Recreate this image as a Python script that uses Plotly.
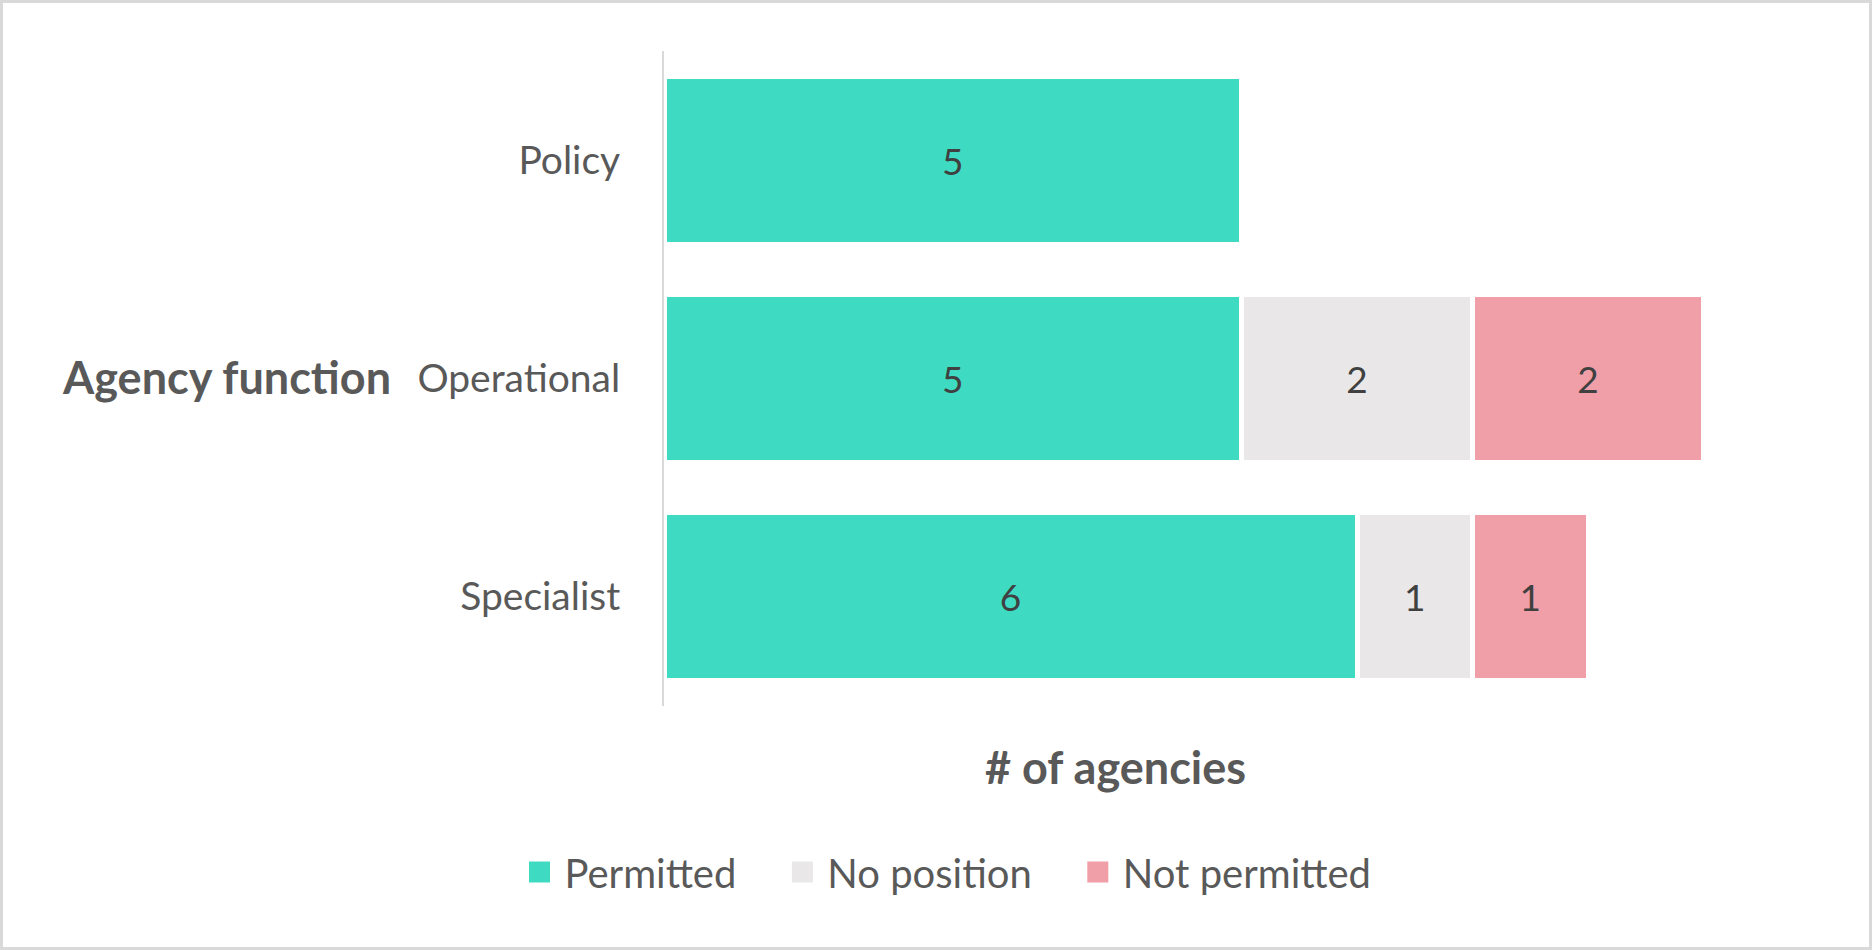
import plotly.graph_objects as go

categories = ["Policy", "Operational", "Specialist"]
permitted = [5, 5, 6]
no_position = [0, 2, 1]
not_permitted = [0, 2, 1]
series_names = ["Permitted", "No position", "Not permitted"]
series_values = [permitted, no_position, not_permitted]
colors = ["#3EDBC2", "#E9E7E8", "#F09EA7"]

W, H = 1872, 950
L, R, T, B = 664, 76, 51, 244
PW, PH = W - L - R, H - T - B

def px(x):
    return (x - L) / PW

def py(y):
    return (H - B - y) / PH

FONT = "Lato, 'Source Sans Pro', 'Noto Sans', sans-serif"
NB = "\u00a0"
THIN = "\u2009"

fig = go.Figure()
for name, vals, col in zip(series_names, series_values, colors):
    fig.add_trace(go.Bar(
        y=categories, x=vals, name=name, orientation="h",
        marker=dict(color=col, line=dict(color="white", width=5)),
        text=[str(v) if v else "" for v in vals],
        textposition="inside", insidetextanchor="middle",
        textfont=dict(color="#404040", size=37, family=FONT),
        showlegend=False, hoverinfo="x+y+name",
    ))
# legend entries (bigger squares)
for name, col in zip(series_names, colors):
    fig.add_trace(go.Scatter(
        x=[None], y=[None], mode="markers", name=THIN + name + NB * 4,
        marker=dict(symbol="square", size=16, color=col, line=dict(color=col, width=5)),
    ))

fig.update_layout(
    width=W, height=H,
    margin=dict(l=L, r=R, t=T, b=B),
    barmode="stack", bargap=0.23,
    paper_bgcolor="white", plot_bgcolor="white",
    font=dict(family=FONT, color="#595959", size=36),
    xaxis=dict(range=[0, 9.8], showgrid=False, zeroline=False, showticklabels=False,
               showline=False, fixedrange=True),
    yaxis=dict(autorange="reversed", showgrid=False, zeroline=False, showline=True,
               linecolor="#D9D9D9", linewidth=2, ticks="", ticklabelstandoff=34,
               tickfont=dict(size=39, color="#595959", family=FONT)),
    legend=dict(orientation="h", xanchor="left", yanchor="middle",
                x=px(519.5), y=py(872), font=dict(size=40, color="#595959", family=FONT),
                itemsizing="trace", traceorder="normal"),
    annotations=[
        dict(text="<b>Agency function</b>", xref="paper", yref="paper",
             x=px(393), y=py(377), xanchor="right", yanchor="middle", showarrow=False,
             font=dict(size=45, color="#595959", family=FONT)),
        dict(text="<b># of agencies</b>", xref="paper", yref="paper",
             x=px(1115), y=py(767), xanchor="center", yanchor="middle", showarrow=False,
             font=dict(size=45, color="#595959", family=FONT)),
    ],
    shapes=[
        dict(type="rect", xref="paper", yref="paper",
             x0=px(1.5), x1=px(W - 1.5), y0=py(H - 1.5), y1=py(1.5),
             line=dict(color="#D9D9D9", width=3), fillcolor="rgba(0,0,0,0)", layer="below"),
    ],
)

fig.write_html("out.html")
